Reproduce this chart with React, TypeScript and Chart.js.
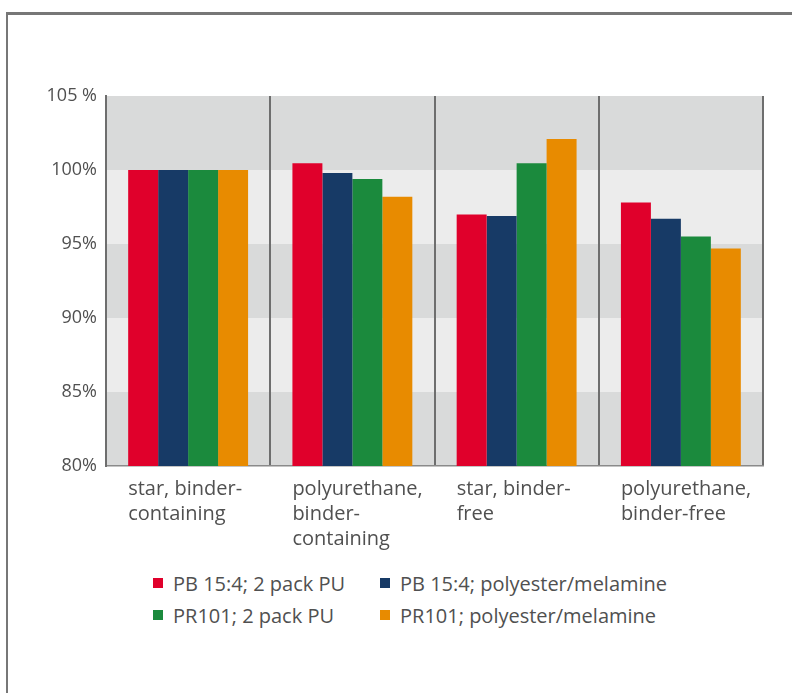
import React, { useEffect, useRef } from "react";
import { Chart, registerables } from "chart.js";

Chart.register(...registerables);

// Categories (multi-line x labels)
const categories: string[][] = [
  ["star, binder-", "containing"],
  ["polyurethane,", "binder-", "containing"],
  ["star, binder-", "free"],
  ["polyurethane,", "binder-free"],
];

// Relative values in percent
const pb154TwoPackPU = [100, 100.45, 97.0, 97.8];
const pb154PolyesterMelamine = [100, 99.8, 96.9, 96.7];
const pr101TwoPackPU = [100, 99.4, 100.45, 95.5];
const pr101PolyesterMelamine = [100, 98.2, 102.1, 94.7];

const seriesLabels = [
  "PB 15:4; 2 pack PU",
  "PB 15:4; polyester/melamine",
  "PR101; 2 pack PU",
  "PR101; polyester/melamine",
];
const seriesColors = ["#e0002b", "#173a66", "#1b8a3d", "#e88b00"];

const yTickValues = [80, 85, 90, 95, 100, 105];
const yTickLabels = ["80%", "85%", "90%", "95%", "100%", "105 %"];

const FONT = "'Open Sans', 'Noto Sans', sans-serif";
const TEXT = "#505050";

// Alternating horizontal background bands between the y ticks
const bandPlugin = {
  id: "bands",
  beforeDraw(chart: any) {
    const { ctx, chartArea } = chart;
    const y = chart.scales.y;
    ctx.save();
    for (let i = 0; i < yTickValues.length - 1; i++) {
      const top = y.getPixelForValue(yTickValues[i + 1]);
      const bottom = y.getPixelForValue(yTickValues[i]);
      ctx.fillStyle = i % 2 === 0 ? "#d9dada" : "#ececec";
      ctx.fillRect(chartArea.left, top, chartArea.right - chartArea.left, bottom - top);
    }
    ctx.restore();
  },
};

function BarChart() {
  const ref = useRef<HTMLCanvasElement | null>(null);

  useEffect(() => {
    if (!ref.current) return;
    const values = [pb154TwoPackPU, pb154PolyesterMelamine, pr101TwoPackPU, pr101PolyesterMelamine];
    const chart = new Chart(ref.current, {
      type: "bar",
      data: {
        labels: categories,
        datasets: values.map((data, i) => ({
          label: seriesLabels[i],
          data,
          backgroundColor: seriesColors[i],
          borderWidth: 0,
          categoryPercentage: 0.73,
          barPercentage: 1,
        })),
      },
      options: {
        responsive: false,
        animation: false,
        layout: { padding: { top: 96, right: 29, left: 0, bottom: 0 } },
        plugins: {
          legend: { display: false },
          tooltip: { enabled: false },
        },
        scales: {
          x: {
            offset: true,
            grid: {
              offset: true,
              drawTicks: false,
              lineWidth: 2,
              color: (ctx: any) => (ctx.index === categories.length ? "rgba(0,0,0,0)" : "#6e6e6e"),
            },
            border: { display: true, color: "#8a8a8a", width: 1.5 },
            ticks: {
              align: "start",
              labelOffset: -60,
              padding: 11,
              color: TEXT,
              font: { family: FONT, size: 20, lineHeight: 1.25 },
              maxRotation: 0,
              autoSkip: false,
            },
            afterFit: (scale: any) => {
              scale.height = 94;
              scale.paddingLeft = 0;
              scale.paddingRight = 0;
            },
          },
          y: {
            min: 80,
            max: 105,
            grid: { display: false, drawTicks: false },
            border: { display: true, color: "#6e6e6e", width: 2 },
            ticks: {
              stepSize: 5,
              padding: 9,
              color: TEXT,
              font: { family: FONT, size: 18 },
              callback: (v: any) => {
                const idx = yTickValues.indexOf(Number(v));
                return idx >= 0 ? yTickLabels[idx] : "";
              },
            },
            afterFit: (scale: any) => {
              scale.width = 106;
              scale.paddingTop = 0;
              scale.paddingBottom = 0;
            },
          },
        },
      },
      plugins: [bandPlugin],
    });
    return () => chart.destroy();
  }, []);

  return (
    <canvas
      ref={ref}
      width={792}
      height={560}
      style={{ position: "absolute", left: 0, top: 0, width: 792, height: 560 }}
    />
  );
}

function Legend() {
  const positions = [
    { left: 153, top: 571 },
    { left: 380, top: 571 },
    { left: 153, top: 603 },
    { left: 380, top: 603 },
  ];
  return (
    <>
      {seriesLabels.map((label, i) => (
        <div
          key={label}
          style={{
            position: "absolute",
            left: positions[i].left,
            top: positions[i].top,
            height: 24,
            display: "flex",
            alignItems: "center",
            whiteSpace: "nowrap",
            fontFamily: FONT,
            fontSize: 20,
            color: TEXT,
          }}
        >
          <span
            style={{
              display: "inline-block",
              width: 10,
              height: 10,
              background: seriesColors[i],
              marginRight: 10,
            }}
          />
          {label}
        </div>
      ))}
    </>
  );
}

export default function App() {
  return (
    <div
      style={{
        position: "fixed",
        left: 0,
        top: 0,
        width: 792,
        height: 693,
        background: "#ffffff",
        overflow: "hidden",
      }}
    >
      {/* frame: top and left rules */}
      <div
        style={{
          position: "absolute",
          left: 6,
          top: 12,
          width: 800,
          height: 700,
          borderLeft: "2px solid #777",
          borderTop: "3px solid #777",
        }}
      />
      <BarChart />
      <Legend />
    </div>
  );
}
